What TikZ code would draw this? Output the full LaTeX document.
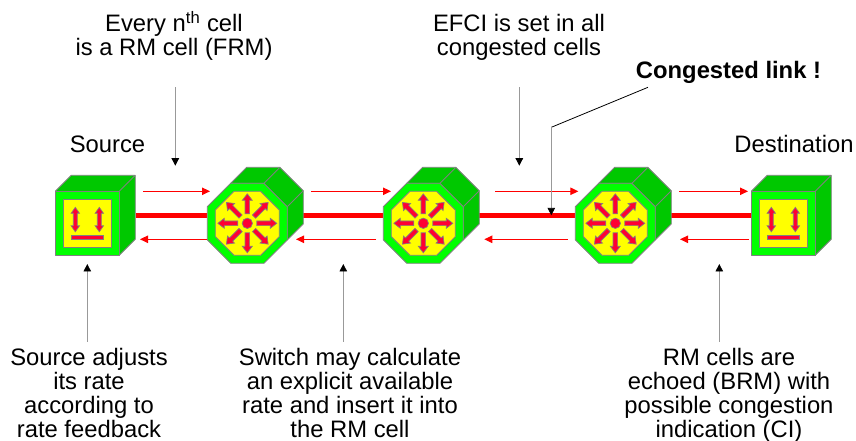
\documentclass[tikz,border=0pt]{standalone}
\usepackage{fontspec}
\setmainfont{Liberation Sans}
\usetikzlibrary{arrows.meta}
\definecolor{dkgreen}{HTML}{00C800}
\definecolor{ltgreen}{HTML}{00FF00}
\definecolor{yel}{HTML}{FFFF00}
\definecolor{arrred}{HTML}{FF0033}
\definecolor{edge}{HTML}{808080}
\tikzset{
  x=0.75pt,y=-0.75pt,
  lbl/.style={font=\fontsize{17.85}{18}\selectfont,align=center,anchor=base,inner sep=0pt,text=black},
  boxedge/.style={draw=edge,line width=0.65pt,line join=round},
  glyph/.style={draw=edge,fill=arrred,line width=0.5pt,line join=miter},
  link/.style={draw=red,line width=3.4pt},
  flow/.style={draw=red,line width=0.8pt,-{Triangle[length=6pt,width=5.6pt,red]}},
  note/.style={draw=edge!80,line width=0.65pt,-{Triangle[length=5.6pt,width=5.6pt,black]}},
  leader/.style={draw=black,line width=0.6pt},
  cube/.pic={
    \fill[dkgreen] (0,0)--(16,-16)--(80,-16)--(80,48)--(64,64)--(64,0)--cycle;
    \draw[boxedge] (0,0)--(16,-16)--(80,-16)--(80,48)--(64,64) (64,0)--(80,-16);
    \draw[boxedge,fill=ltgreen] (0,0) rectangle (64,64);
    \draw[boxedge,fill=yel] (8,8) rectangle (56,56);
    \foreach \cx in {20,44}{
      \draw[glyph] (\cx,16)--(\cx+4.2,22)--(\cx+2,22)--(\cx+2,34.5)--(\cx+4.2,34.5)--(\cx,40.5)--(\cx-4.2,34.5)--(\cx-2,34.5)--(\cx-2,22)--(\cx-4.2,22)--cycle;
    }
    \draw[glyph] (16,44) rectangle (48,48.3);
  },
  switchbox/.pic={
    \draw[boxedge,fill=dkgreen] (-16.6,-40)--(-0.6,-56)--(32.6,-56)--(56,-32.6)--(56,0.6)--(40,16.6)--(40,-16.6)--(16.6,-40)--cycle;
    \draw[boxedge] (16.6,-40)--(32.6,-56) (40,-16.6)--(56,-32.6);
    \draw[boxedge,fill=ltgreen] (-16.6,-40)--(16.6,-40)--(40,-16.6)--(40,16.6)--(16.6,40)--(-16.6,40)--(-40,16.6)--(-40,-16.6)--cycle;
    \draw[boxedge,fill=yel] (-13.3,-32)--(13.3,-32)--(32,-13.3)--(32,13.3)--(13.3,32)--(-13.3,32)--(-32,13.3)--(-32,-13.3)--cycle;
    \foreach \a in {0,45,...,315}{
      \draw[glyph,rotate=\a] (9.5,-2.3)--(23,-2.3)--(23,-5)--(29.5,0)--(23,5)--(23,2.3)--(9.5,2.3)--cycle;
    }
    \draw[glyph] (0,0) circle[radius=5.2];
  }
}
\begin{document}
\begin{tikzpicture}
\useasboundingbox (0,0) rectangle (856,441);
% anchor points of the equipment
\coordinate (srcR) at (135.7,215.3);
\coordinate (sw1L) at (207.3,215.3);
\coordinate (sw1R) at (303.3,215.3);
\coordinate (sw2L) at (383.3,215.3);
\coordinate (sw2R) at (479.3,215.3);
\coordinate (sw3L) at (575.3,215.3);
\coordinate (sw3R) at (671.3,215.3);
\coordinate (dstL) at (751.3,215.3);
% links
\draw[link] (srcR)--(sw1L);
\draw[link] (sw1R)--(sw2L);
\draw[link] (sw2R)--(sw3L);
\draw[link] (sw3R)--(dstL);
% equipment
\pic (src) at (55.3,191.3) {cube};
\pic (sw1) at (247.3,223.3) {switchbox};
\pic (sw2) at (423.3,223.3) {switchbox};
\pic (sw3) at (615.3,223.3) {switchbox};
\pic (dst) at (751.3,191.3) {cube};
% forward / backward cell flow
\foreach \n/\xa/\xb in {f1/143/210,f2/311.3/391,f3/495.3/578.3,f4/679/748}{
  \coordinate (\n a) at (\xa,191.3);
  \coordinate (\n b) at (\xb,191.3);
  \draw[flow] (\n a)--(\n b);
}
\foreach \n/\xa/\xb in {b1/207/140,b2/376/296,b3/567.7/484.3,b4/749/680}{
  \coordinate (\n a) at (\xa,239.3);
  \coordinate (\n b) at (\xb,239.3);
  \draw[flow] (\n a)--(\n b);
}
% labels
\node[lbl] (every) at (174,56) {Every n\textsuperscript{th} cell\\is a RM cell (FRM)};
\node[lbl] (efci) at (519,56) {EFCI is set in all\\congested cells};
\node[lbl,font=\fontsize{17.85}{18}\selectfont\bfseries] (cong) at (728.5,79) {Congested link !};
\node[lbl] (source) at (107.5,152.7) {Source};
\node[lbl] (dest) at (794,152.7) {Destination};
\node[lbl] (srcnote) at (89,437.7) {Source adjusts\\its rate\\according to\\rate feedback};
\node[lbl] (swnote) at (350,437.7) {Switch may calculate\\an explicit available\\rate and insert it into\\the RM cell};
\node[lbl] (dstnote) at (729,437.7) {RM cells are\\echoed (BRM) with\\possible congestion\\indication (CI)};
% callouts
\coordinate (n1a) at (175.3,87.3); \coordinate (n1b) at (175.3,165.7);
\coordinate (n2a) at (519.3,87.3); \coordinate (n2b) at (519.3,165.7);
\coordinate (n3a) at (648,87.3); \coordinate (n3m) at (551.3,127.3); \coordinate (n3b) at (551.3,215.3);
\coordinate (n4a) at (87.3,341.7); \coordinate (n4b) at (87.3,264);
\coordinate (n5a) at (343.3,341.7); \coordinate (n5b) at (343.3,264);
\coordinate (n6a) at (719.3,341.7); \coordinate (n6b) at (719.3,264);
\draw[note] (n1a)--(n1b);
\draw[note] (n2a)--(n2b);
\draw[leader] (n3a)--(n3m);
\draw[note] (n3m)--(n3b);
\draw[note] (n4a)--(n4b);
\draw[note] (n5a)--(n5b);
\draw[note] (n6a)--(n6b);
\end{tikzpicture}
\end{document}
